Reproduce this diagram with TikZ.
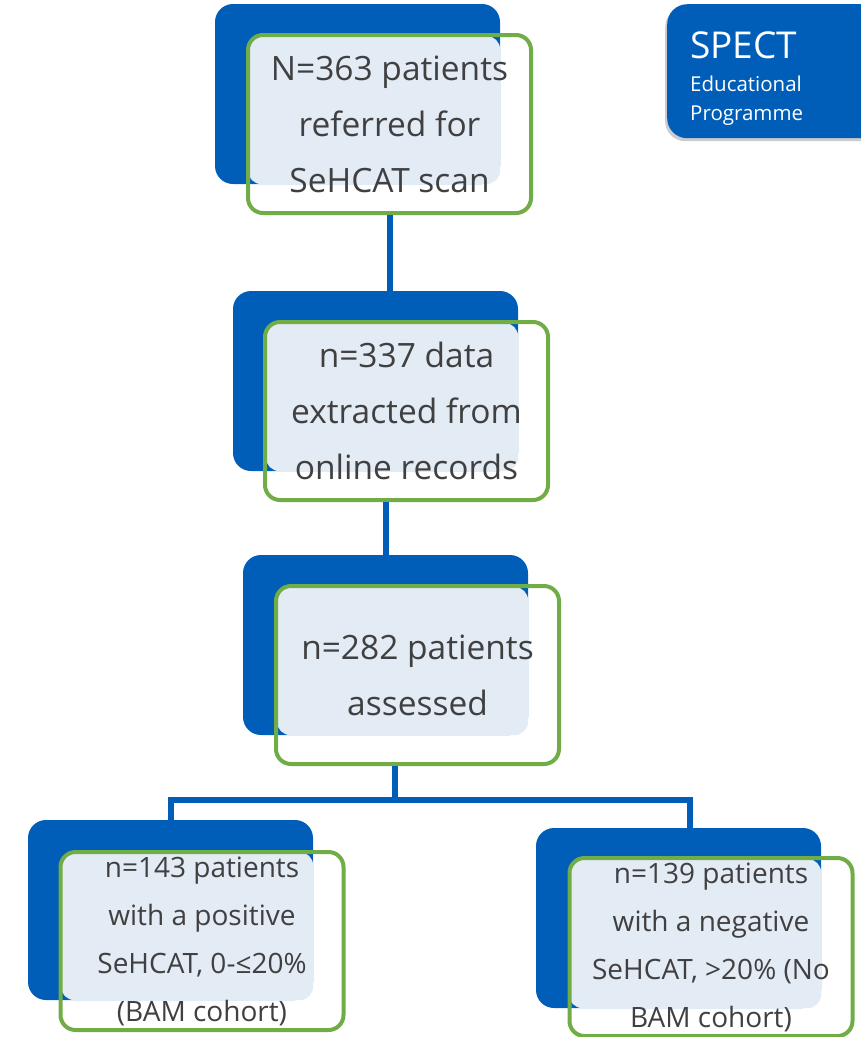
\documentclass[tikz,border=0pt]{standalone}
\usepackage{fontspec}
\setmainfont{Open Sans}
\usetikzlibrary{shadows}

\definecolor{speblue}{HTML}{005EB8}
\definecolor{frgreen}{HTML}{70AD47}
\definecolor{paleblue}{HTML}{E3EBF5}
\definecolor{txtgray}{HTML}{404040}

\tikzset{backbox/.style={fill=speblue,rounded corners=18pt,minimum width=285pt,minimum height=180pt,inner sep=0pt}}
\tikzset{frontbox/.style={draw=frgreen,line width=4pt,rounded corners=15pt,minimum width=283pt,minimum height=178pt,align=center,text=txtgray,inner sep=0pt,font=\fontsize{33.5}{56}\selectfont}}
\tikzset{smallbox/.style={frontbox,font=\fontsize{28}{48}\selectfont}}
\tikzset{overlap/.style={fill=paleblue,rounded corners=14pt}}
\tikzset{link/.style={draw=speblue,line width=6pt,line join=miter}}

\begin{document}
\begin{tikzpicture}[x=1pt,y=-1pt]
        \useasboundingbox (0,0) rectangle (861,1037);
        % logo in the corner
        \node[fill=speblue,rounded corners=20pt,minimum width=220pt,minimum height=134pt,anchor=north west,
              drop shadow={shadow xshift=-2pt,shadow yshift=-3pt,fill=black,opacity=0.2}] (badge) at (667,4) {};
        \node[anchor=base west,white,inner sep=0pt,font=\fontsize{37}{37}\selectfont] (spect) at (690,58) {SPECT};
        \node[anchor=base west,white,inner sep=0pt,font=\fontsize{20.5}{20}\selectfont] (edu) at (690,91) {Educational};
        \node[anchor=base west,white,inner sep=0pt,font=\fontsize{20.5}{20}\selectfont] (prog) at (690,120) {Programme};

        % first box
        \node[backbox] (b1) at (357.5,94) {};
        \fill[overlap] ([shift={(33,32)}]b1.north west) rectangle (b1.south east);
        \node[frontbox] (n1) at (389.5,124) {N=363 patients\\referred for\\SeHCAT scan};

        % second box
        \node[backbox] (b2) at (375.5,381) {};
        \fill[overlap] ([shift={(33,32)}]b2.north west) rectangle (b2.south east);
        \node[frontbox] (n2) at (406.5,411) {n=337 data\\extracted from\\online records};

        % third box
        \node[backbox] (b3) at (385.5,645) {};
        \fill[overlap] ([shift={(34,32)}]b3.north west) rectangle (b3.south east);
        \node[frontbox] (n3) at (417.5,675) {n=282 patients\\assessed};

        % the two cohorts
        \node[backbox] (b4) at (170.5,910) {};
        \fill[overlap] ([shift={(33,32)}]b4.north west) rectangle (b4.south east);
        \node[smallbox] (n4) at (202,941) {n=143 patients\\with a positive\\SeHCAT, 0-≤20\%\\(BAM cohort)};

        \node[backbox] (b5) at (678.5,918) {};
        \fill[overlap] ([shift={(33,31)}]b5.north west) rectangle (b5.south east);
        \node[smallbox] (n5) at (711,947) {n=139 patients\\with a negative\\SeHCAT, >20\% (No\\BAM cohort)};

        % connectors
        \coordinate (split) at (395,800);
        \draw[link] (n1.south) -- (n1.south |- b2.north);
        \draw[link] (b3.north) -- (b3.north |- n2.south);
        \draw[link] (split |- n3.south) -- (split);
        \draw[link] (b4.north) |- (split) -| ([xshift=11pt]b5.north);
    \end{tikzpicture}
\end{document}
